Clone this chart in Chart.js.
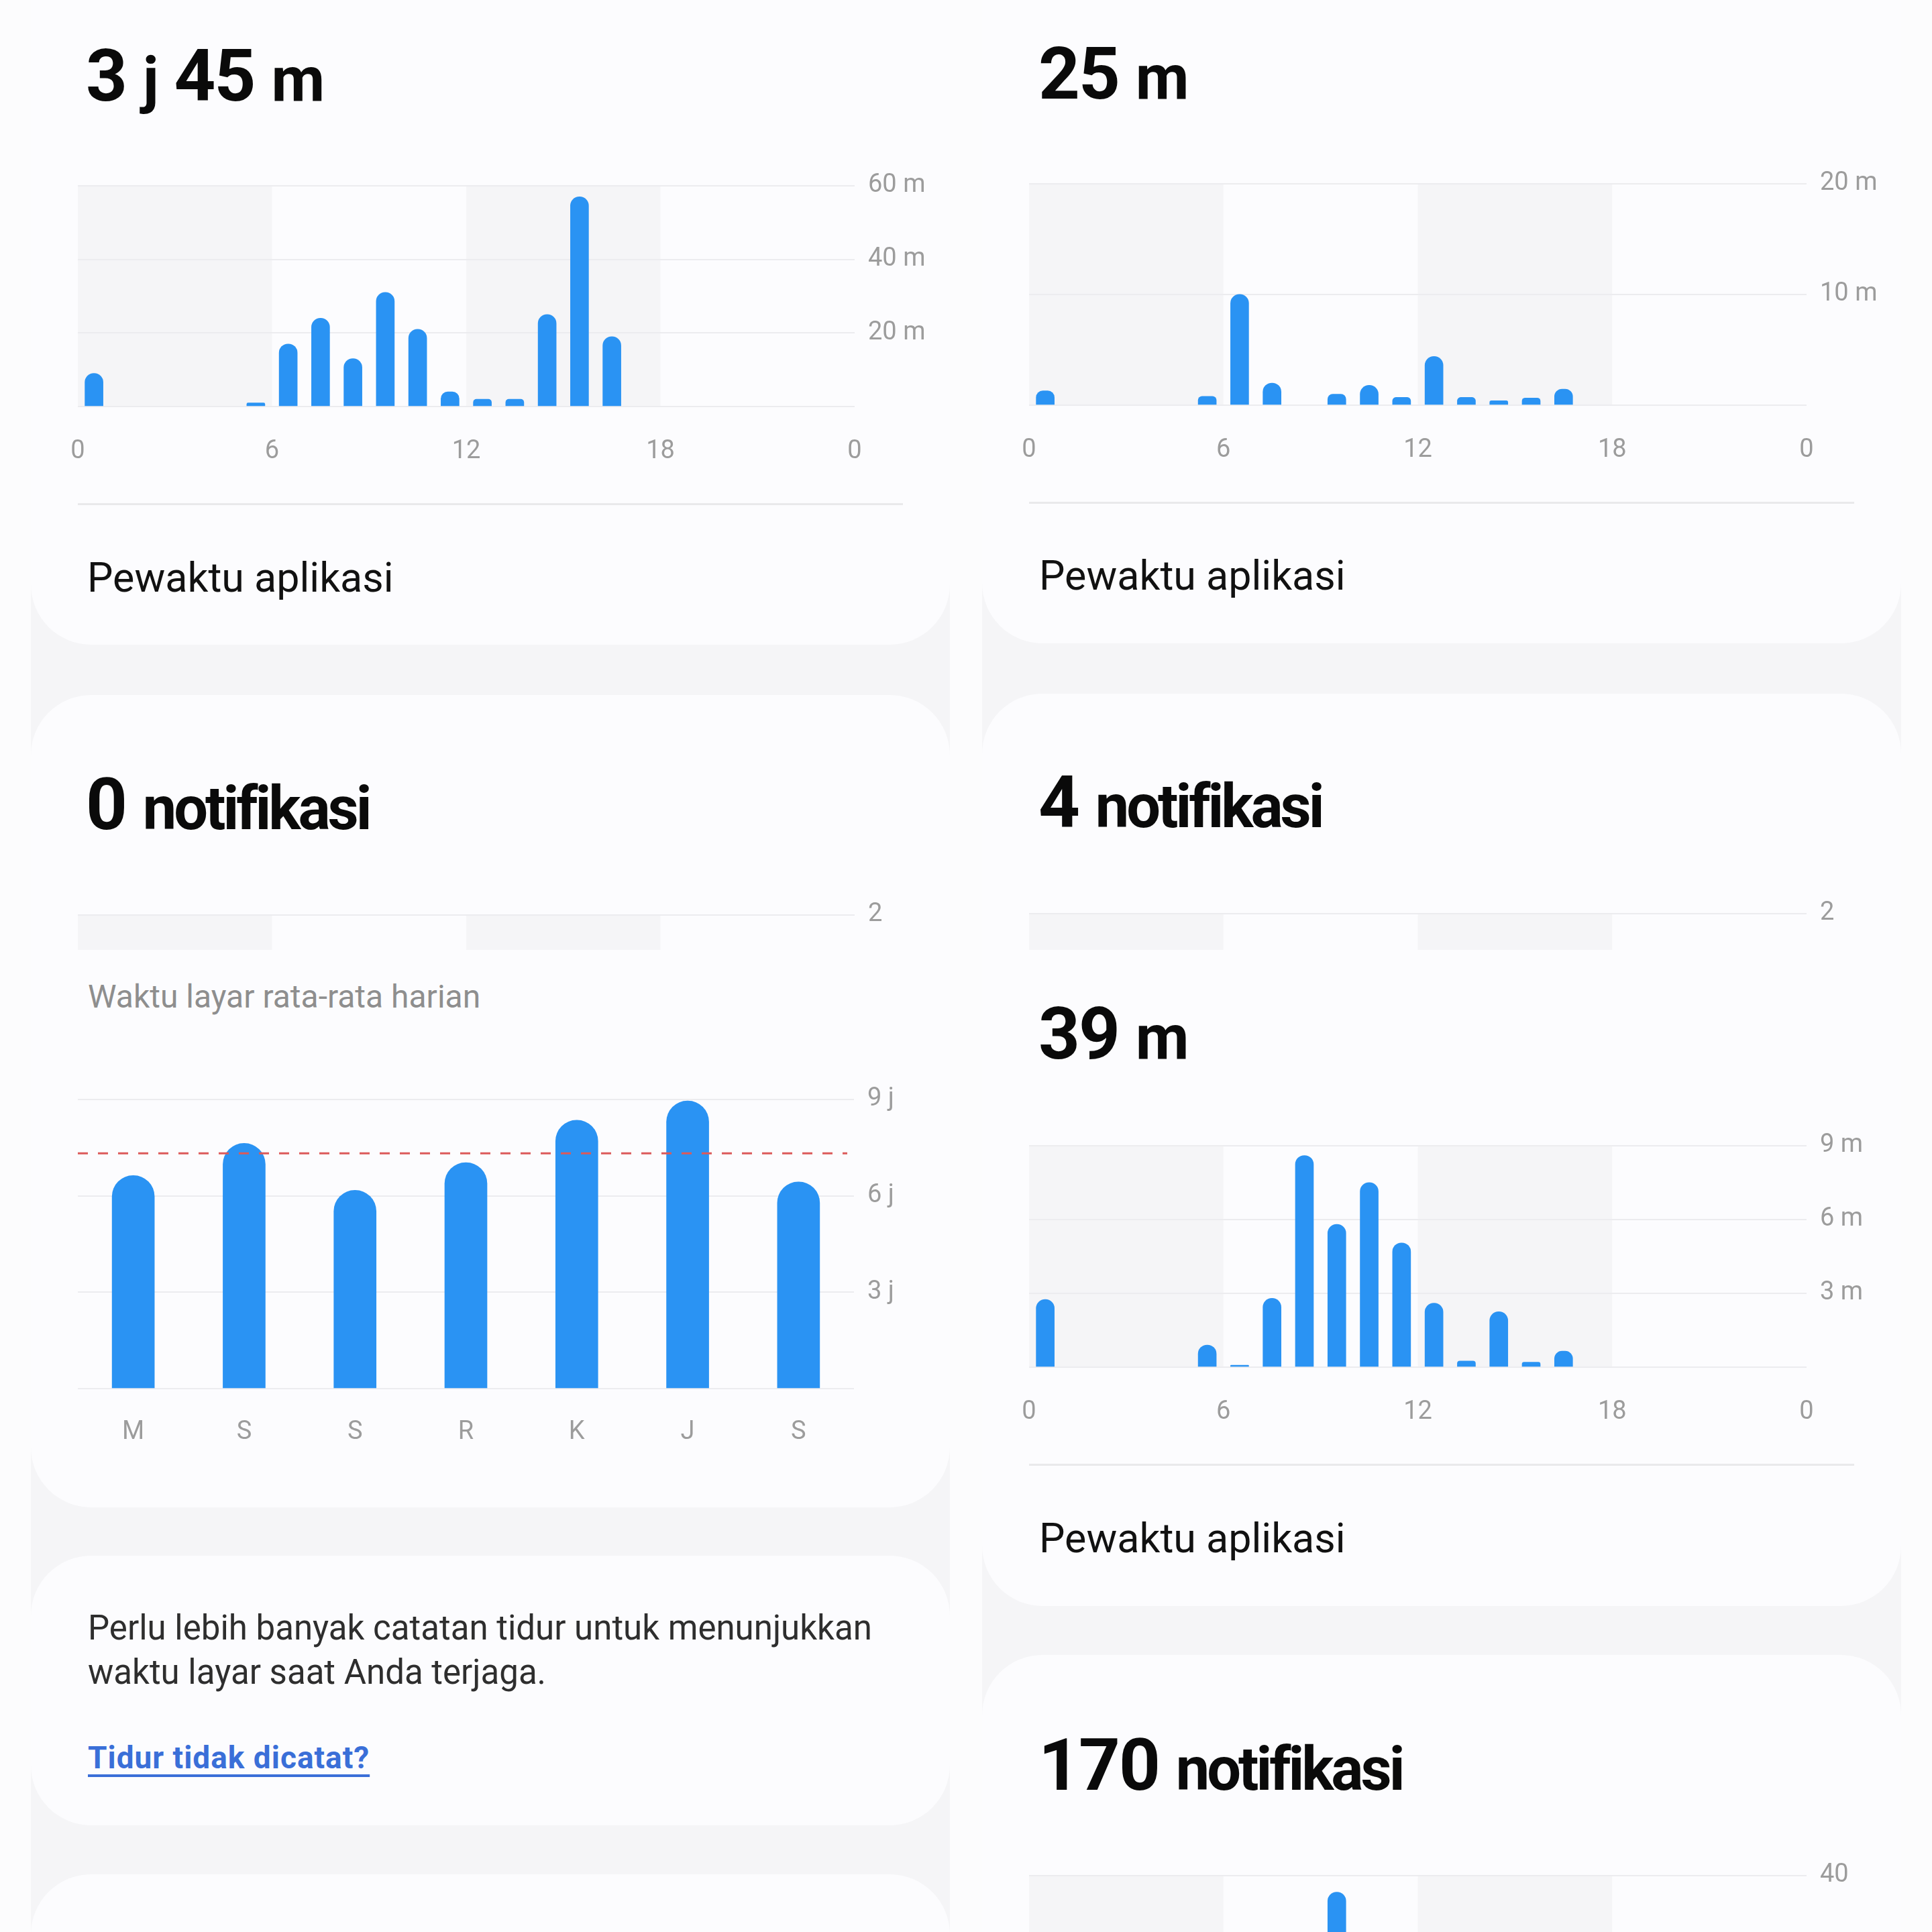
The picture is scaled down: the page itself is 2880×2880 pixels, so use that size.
<!DOCTYPE html>
<html lang="id">
<head>
<meta charset="utf-8">
<title>Waktu layar</title>
<script src="https://cdn.jsdelivr.net/npm/chart.js@4.4.1/dist/chart.umd.min.js"></script>
<style>
html, body { margin: 0; padding: 0; }
body { width: 2880px; height: 2880px; position: relative; overflow: hidden; background: #fcfcfd; font-family: Roboto, 'Noto Sans', sans-serif; }
.screen { position: absolute; top: 0; width: 1370px; height: 2880px; background: #f5f5f7; }
.card { position: absolute; width: 1370px; background: #fcfcfe; border-radius: 90px; }
.abs { position: absolute; white-space: nowrap; line-height: 1; }
.title { font-weight: 700; font-size: 108px; color: #0a0a0a; letter-spacing: -2px; }
.title .u { font-size: 92px; }
.title .n { font-size: 90px; letter-spacing: -4px; }
.label { font-size: 61px; color: #111; }
.sub { font-size: 48px; color: #8e8e8e; }
.body { font-size: 51px; line-height: 66px; color: #2e2e2e; }
.link { font-size: 46px; font-weight: 700; color: #3a6fd8; letter-spacing: 1px; text-decoration: underline; text-decoration-thickness: 4px; text-underline-offset: 9px; }
.rule { position: absolute; height: 3px; background: #e9e9eb; }
.clip { position: absolute; overflow: hidden; }
canvas { display: block; }
.abs-c { position: absolute; }
</style>
</head>
<body>

<div class="screen" style="left:46px"></div>
<div class="screen" style="left:1464px"></div>

<div class="card" style="left:46px;top:-100px;height:1061px"></div>
<div class="card" style="left:46px;top:1036px;height:1211px"></div>
<div class="card" style="left:46px;top:2319px;height:402px"></div>
<div class="card" style="left:46px;top:2794px;height:300px"></div>

<div class="card" style="left:1464px;top:-100px;height:1059px"></div>
<div class="card" style="left:1464px;top:1034px;height:1360px"></div>
<div class="card" style="left:1464px;top:2467px;height:600px"></div>

<!-- left column -->
<div class="abs title" style="left:128px;top:59px">3 <span class="u">j</span> 45 <span class="u">m</span></div>
<canvas id="usageA" class="abs-c" width="1358" height="472" style="left:46px;top:234px"></canvas>
<div class="rule" style="left:116px;top:750px;width:1230px"></div>
<div class="abs label" style="left:130px;top:831px">Pewaktu aplikasi</div>

<div class="abs title" style="left:128px;top:1145px">0 <span class="n">notifikasi</span></div>
<div class="clip" style="left:46px;top:1321px;width:1358px;height:95px">
  <canvas id="notifA" width="1358" height="472"></canvas>
</div>

<div class="abs sub" style="left:131px;top:1462px">Waktu layar rata-rata harian</div>
<canvas id="weekly" class="abs-c" width="1327" height="574" style="left:76px;top:1596px"></canvas>

<div class="abs body" style="left:131px;top:2394px">Perlu lebih banyak catatan tidur untuk menunjukkan<br>waktu layar saat Anda terjaga.</div>
<div class="abs link" style="left:131px;top:2597px">Tidur tidak dicatat?</div>

<!-- right column -->
<div class="abs title" style="left:1548px;top:56px">25 <span class="u">m</span></div>
<canvas id="usageB" class="abs-c" width="1359" height="473" style="left:1464px;top:231px"></canvas>
<div class="rule" style="left:1534px;top:748px;width:1230px"></div>
<div class="abs label" style="left:1549px;top:828px">Pewaktu aplikasi</div>

<div class="abs title" style="left:1548px;top:1142px">4 <span class="n">notifikasi</span></div>
<div class="clip" style="left:1464px;top:1319px;width:1359px;height:97px">
  <canvas id="notifB" width="1359" height="473"></canvas>
</div>

<div class="abs title" style="left:1548px;top:1487px">39 <span class="u">m</span></div>
<canvas id="usageC" class="abs-c" width="1359" height="473" style="left:1464px;top:1665px"></canvas>
<div class="rule" style="left:1534px;top:2182px;width:1230px"></div>
<div class="abs label" style="left:1549px;top:2263px">Pewaktu aplikasi</div>

<div class="abs title" style="left:1548px;top:2577px">170 <span class="n">notifikasi</span></div>
<div class="clip" style="left:1464px;top:2753px;width:1359px;height:127px">
  <canvas id="notifC" width="1359" height="473"></canvas>
</div>

<script>
// jam dalam sehari
const HOURS = ['0','1','2','3','4','5','6','7','8','9','10','11','12','13','14','15','16','17','18','19','20','21','22','23'];
const HOUR_TICK_LABELS = ['0', '6', '12', '18', '0'];
const BAND_RANGES = [[0, 6], [12, 18]];

// menit per jam
const usageA = [9, null, null, null, null, 1, 17, 24, 13, 31, 21, 4, 2, 2, 25, 57, 19, null, null, null, null, null, null, null];
const usageB = [1.3, null, null, null, null, 0.8, 10, 2, null, 1, 1.8, 0.7, 4.4, 0.7, 0.4, 0.65, 1.45, null, null, null, null, null, null, null];
const usageC = [2.75, null, null, null, null, 0.9, 0.08, 2.8, 8.6, 5.8, 7.5, 5.05, 2.6, 0.25, 2.25, 0.2, 0.65, null, null, null, null, null, null, null];

// notifikasi per jam (hanya bagian yang terlihat)
const notifA = [];
const notifB = [];
const notifC = [null, null, null, null, null, null, null, null, null, 37];

const usageATicks = ['', '20 m', '40 m', '60 m'];
const usageBTicks = ['', '10 m', '20 m'];
const usageCTicks = ['', '3 m', '6 m', '9 m'];
const notifABTicks = ['', '1', '2'];
const notifCTicks = ['', '20', '40'];

// rata-rata harian
const DAYS = ['M', 'S', 'S', 'R', 'K', 'J', 'S'];
const weekHours = [6.63, 7.63, 6.17, 7.03, 8.35, 8.95, 6.43];
const weekTicks = ['', '3 j', '6 j', '9 j'];
const WEEK_AVG = 7.32;

const BLUE = '#2a93f3';
const GRID = '#ececef';
const TICK = '#9c9c9c';
const BAND = '#f5f5f7';
const RED = '#dc5a5a';
const FONT = { family: 'Roboto', size: 38 };

const dayBands = {
    id: 'dayBands',
    beforeDraw(chart) {
        const { ctx, chartArea: a, scales } = chart;
        const x = scales.x2;
        ctx.save();
        ctx.fillStyle = BAND;
        BAND_RANGES.forEach(([from, to]) => {
            const l = x.getPixelForValue(from);
            const r = x.getPixelForValue(to);
            ctx.fillRect(l, a.top, r - l, a.bottom - a.top);
        });
        ctx.restore();
    }
};

const avgLine = {
    id: 'avgLine',
    afterDatasetsDraw(chart) {
        const { ctx, chartArea: a, scales } = chart;
        const py = scales.y.getPixelForValue(WEEK_AVG);
        ctx.save();
        ctx.strokeStyle = RED;
        ctx.lineWidth = 3;
        ctx.setLineDash([15, 15]);
        ctx.beginPath();
        ctx.moveTo(a.left, py);
        ctx.lineTo(a.right - 10, py);
        ctx.stroke();
        ctx.restore();
    }
};

function yAxis(max, step, labels) {
    return {
        position: 'right',
        min: 0,
        max: max,
        afterFit: s => { s.width = 130; },
        grid: { color: GRID, lineWidth: 2, drawTicks: false },
        border: { display: false },
        ticks: {
            stepSize: step,
            padding: 20,
            color: TICK,
            font: FONT,
            callback: (v, i) => labels[i]
        }
    };
}

function hourlyChart(id, values, yMax, yStep, yLabels) {
    return new Chart(document.getElementById(id), {
        type: 'bar',
        data: {
            labels: HOURS,
            datasets: [{
                data: values,
                backgroundColor: BLUE,
                borderRadius: 14,
                barThickness: 27
            }]
        },
        options: {
            responsive: false,
            animation: false,
            events: [],
            // the x2 tick padding also widens the left overflow, so keep room for it
            layout: { padding: { left: 70, top: 40, right: 0, bottom: 0 } },
            plugins: { legend: { display: false }, tooltip: { enabled: false } },
            scales: {
                x: { display: false },
                x2: {
                    type: 'linear',
                    position: 'bottom',
                    offset: false,
                    min: 0,
                    max: 24,
                    afterFit: s => { s.height = 100; },
                    grid: { display: false, drawTicks: false, offset: false },
                    border: { display: false },
                    ticks: {
                        stepSize: 6,
                        padding: 45,
                        maxRotation: 0,
                        autoSkip: false,
                        color: TICK,
                        font: FONT,
                        callback: (v, i) => HOUR_TICK_LABELS[i]
                    }
                },
                y: yAxis(yMax, yStep, yLabels)
            }
        },
        plugins: [dayBands]
    });
}

hourlyChart('usageA', usageA, 60, 20, usageATicks);
hourlyChart('usageB', usageB, 20, 10, usageBTicks);
hourlyChart('usageC', usageC, 9, 3, usageCTicks);
hourlyChart('notifA', notifA, 2, 1, notifABTicks);
hourlyChart('notifB', notifB, 2, 1, notifABTicks);
hourlyChart('notifC', notifC, 40, 20, notifCTicks);

new Chart(document.getElementById('weekly'), {
    type: 'bar',
    data: {
        labels: DAYS,
        datasets: [{
            data: weekHours,
            backgroundColor: BLUE,
            borderRadius: 32,
            barThickness: 63
        }]
    },
    options: {
        responsive: false,
        animation: false,
        events: [],
        layout: { padding: { left: 40, top: 40, right: 0, bottom: 0 } },
        plugins: { legend: { display: false }, tooltip: { enabled: false } },
        scales: {
            x: {
                afterFit: s => { s.height = 100; },
                grid: { display: false, drawTicks: false },
                border: { display: false },
                ticks: { padding: 43, maxRotation: 0, autoSkip: false, color: TICK, font: FONT }
            },
            y: yAxis(9, 3, weekTicks)
        }
    },
    plugins: [avgLine]
});
</script>
</body>
</html>
